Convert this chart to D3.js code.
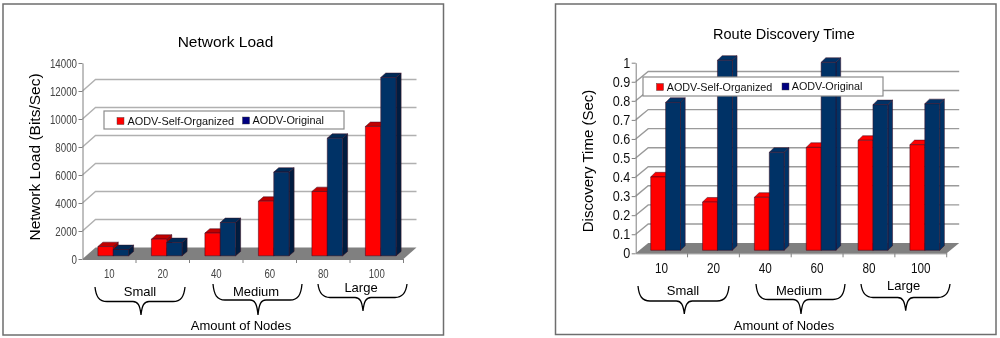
<!DOCTYPE html>
<html>
<head>
<meta charset="utf-8">
<script src="https://cdn.jsdelivr.net/npm/d3@7"></script>
<style>
  html, body { margin: 0; padding: 0; background: #fff; }
  svg { display: block; }
  text { font-family: "Liberation Sans", Arial, sans-serif; }
</style>
</head>
<body>
<div id="graficos"></div>
<script>
// DATOS
var series = ['AODV-Self-Organized', 'AODV-Original'];
var nodes = ['10', '20', '40', '60', '80', '100'];
var groups = ['Small', 'Medium', 'Large'];

var loadSelfOrganized = [660, 1190, 1620, 3900, 4590, 9240];
var loadOriginal = [450, 950, 2380, 5980, 8400, 12740];
var loadTicks = [0, 2000, 4000, 6000, 8000, 10000, 12000, 14000];

var timeSelfOrganized = [0.385, 0.253, 0.278, 0.54, 0.577, 0.554];
var timeOriginal = [0.776, 0.997, 0.514, 0.986, 0.764, 0.769];
var timeTicks = [0, 0.1, 0.2, 0.3, 0.4, 0.5, 0.6, 0.7, 0.8, 0.9, 1];

var svg = d3.select('#graficos').append('svg')
    .attr('width', 1000)
    .attr('height', 338);

// La imagen original esta un poco borrosa
svg.append('defs').append('filter').attr('id', 'suave')
    .attr('x', 0).attr('y', 0).attr('width', 1).attr('height', 1)
    .append('feGaussianBlur').attr('stdDeviation', 0.35);

var root = svg.append('g').attr('filter', 'url(#suave)');
root.append('rect').attr('width', 1000).attr('height', 338).attr('fill', '#fff');

var front = ['#ff0000', '#003366'];
var swatch = ['#ff0000', '#000080'];

// Llave horizontal con la punta hacia abajo
function brace(b) {
    var r = 8;
    return 'M' + b.x0 + ',' + b.top +
        'C' + (b.x0 + 1) + ',' + (b.mid - 5) + ' ' + (b.x0 + 4) + ',' + b.mid + ' ' + (b.x0 + r + 4) + ',' + b.mid +
        'L' + (b.tip - r) + ',' + b.mid +
        'C' + (b.tip - 3) + ',' + b.mid + ' ' + (b.tip - 1) + ',' + (b.mid + 4) + ' ' + b.tip + ',' + b.end +
        'C' + (b.tip + 1) + ',' + (b.mid + 4) + ' ' + (b.tip + 3) + ',' + b.mid + ' ' + (b.tip + r) + ',' + b.mid +
        'L' + (b.x1 - r - 4) + ',' + b.mid +
        'C' + (b.x1 - 4) + ',' + b.mid + ' ' + (b.x1 - 1) + ',' + (b.mid - 5) + ' ' + b.x1 + ',' + b.top;
}

// Las etiquetas del original estan comprimidas a lo ancho
function squeeze(sel, factor) {
    sel.each(function () {
        d3.select(this)
            .attr('textLength', this.getComputedTextLength() * factor)
            .attr('lengthAdjust', 'spacingAndGlyphs');
    });
}

function drawChart(c) {
    var g = root.append('g');

    // MARCO
    g.append('rect')
        .attr('x', c.frame[0]).attr('y', c.frame[1])
        .attr('width', c.frame[2] - c.frame[0]).attr('height', c.frame[3] - c.frame[1])
        .attr('fill', '#fff').attr('stroke', '#6e6e6e').attr('stroke-width', 1.5);

    // ---------ESCALAS------------
    var x = d3.scaleBand().domain(nodes).range([c.left, c.right]);
    var xSerie = d3.scaleBand().domain(series).range([0, x.bandwidth()]).paddingOuter(0.74).paddingInner(0);
    var y = d3.scaleLinear().domain([0, c.max]).range([c.bottom, c.top]);

    // Piso
    g.append('path')
        .attr('d', 'M' + c.left + ',' + y(0) + 'L' + (c.left + c.depthX) + ',' + (y(0) - c.depthY) +
            'L' + (c.right + c.depthX) + ',' + (y(0) - c.depthY) + 'L' + c.right + ',' + y(0) + 'Z')
        .attr('fill', '#808080');

    // Lineas de la pared
    var wall = c.ticks.filter(function (d) { return d > 0 && d < c.max; });
    g.selectAll('.wall').data(wall).enter().append('polyline')
        .attr('class', 'wall')
        .attr('fill', 'none')
        .attr('stroke', c.wallColor)
        .attr('stroke-width', 1.4)
        .attr('points', function (d) {
            return c.left + ',' + y(d) + ' ' + (c.left + c.depthX) + ',' + (y(d) - c.depthY) + ' ' +
                (c.right + c.depthX) + ',' + (y(d) - c.depthY);
        });

    // Barras
    nodes.forEach(function (n, i) {
        series.forEach(function (s, k) {
            var v = c.values[k][i];
            var x0 = x(n) + xSerie(s) + c.barOffX;
            var x1 = x0 + xSerie.bandwidth();
            var y0 = y(0) - c.barOffY;
            var y1 = y(v) - c.barOffY;
            var b = g.append('g').attr('stroke', '#3a0a20').attr('stroke-width', 0.5).attr('stroke-linejoin', 'round');
            b.append('path')
                .attr('d', 'M' + x1 + ',' + y0 + 'L' + (x1 + c.barX) + ',' + (y0 - c.barY) + 'L' + (x1 + c.barX) + ',' + (y1 - c.barY) + 'L' + x1 + ',' + y1 + 'Z')
                .attr('fill', c.side[k]);
            b.append('path')
                .attr('d', 'M' + x0 + ',' + y1 + 'L' + (x0 + c.barX) + ',' + (y1 - c.barY) + 'L' + (x1 + c.barX) + ',' + (y1 - c.barY) + 'L' + x1 + ',' + y1 + 'Z')
                .attr('fill', c.topFace[k]);
            b.append('rect')
                .attr('x', x0).attr('y', y1)
                .attr('width', x1 - x0).attr('height', y0 - y1)
                .attr('fill', front[k]);
        });
    });

    // EJE Y
    var axisY = g.append('g')
        .attr('transform', 'translate(' + c.left + ',0)')
        .call(d3.axisLeft(y).tickValues(c.ticks).tickFormat(function (d) { return d; }).tickSize(4).tickPadding(1.5).tickSizeOuter(0));
    axisY.selectAll('line').attr('stroke', '#808080');
    axisY.select('.domain').attr('stroke', '#808080');
    axisY.selectAll('text').attr('font-size', c.tickFont).attr('fill', c.tickColor)
        .style('font-family', '"Liberation Sans", Arial, sans-serif')
        .call(squeeze, c.tickSqueeze);

    // EJE X, etiquetas centradas y marcas en los limites de cada banda
    var axisX = g.append('g')
        .attr('transform', 'translate(0,' + y(0) + ')')
        .call(d3.axisBottom(x).tickSize(0).tickSizeOuter(0).tickPadding(c.xPad));
    axisX.select('.domain').attr('stroke', '#808080');
    axisX.selectAll('text').attr('font-size', c.xFont).attr('fill', c.tickColor)
        .style('font-family', '"Liberation Sans", Arial, sans-serif')
        .call(squeeze, c.xSqueeze);
    axisX.selectAll('.limite').data(nodes).enter().append('line')
        .attr('class', 'limite')
        .attr('x1', function (d) { return x(d) + x.bandwidth(); })
        .attr('x2', function (d) { return x(d) + x.bandwidth(); })
        .attr('y1', 0).attr('y2', 4)
        .attr('stroke', '#808080');

    // Titulos
    g.append('text').attr('x', c.titleX).attr('y', c.titleY).attr('text-anchor', 'middle')
        .attr('font-size', c.titleFont).attr('fill', '#000').text(c.title);
    g.append('text')
        .attr('transform', 'translate(' + c.yTitleX + ',' + c.yTitleY + ') rotate(-90)')
        .attr('text-anchor', 'middle')
        .attr('font-size', c.yTitleFont).attr('fill', '#000').text(c.yTitle);
    g.append('text').attr('x', c.nodesX).attr('y', 330).attr('text-anchor', 'middle')
        .attr('font-size', 13).attr('fill', '#000').text('Amount of Nodes');

    // Llaves
    groups.forEach(function (name, i) {
        var b = c.braces[i];
        g.append('path').attr('d', brace(b))
            .attr('fill', 'none').attr('stroke', '#000').attr('stroke-width', 1.3);
        g.append('text').attr('x', b.labelX).attr('y', b.labelY).attr('text-anchor', 'middle')
            .attr('font-size', 13).attr('fill', '#000').text(name);
    });

    // Leyenda, va encima de las barras
    var l = c.legend;
    g.append('rect')
        .attr('x', l.x0).attr('y', l.y0).attr('width', l.x1 - l.x0).attr('height', l.y1 - l.y0)
        .attr('fill', '#fff').attr('stroke', '#8c8c8c').attr('stroke-width', 1.2);
    series.forEach(function (s, k) {
        g.append('rect')
            .attr('x', l.swatch[k]).attr('y', l.swatchY[k]).attr('width', 7).attr('height', 7)
            .attr('fill', swatch[k]).attr('stroke', '#333').attr('stroke-width', 0.4);
        g.append('text')
            .attr('x', l.text[k]).attr('y', l.base[k])
            .attr('font-size', l.font).attr('fill', '#111').text(s);
    });
}

drawChart({
    title: 'Network Load', titleX: 225.5, titleY: 46.5, titleFont: 15.5,
    yTitle: 'Network Load (Bits/Sec)', yTitleX: 40, yTitleY: 157, yTitleFont: 15.5,
    frame: [3, 4, 443.5, 335],
    left: 82.5, right: 403.5, top: 63, bottom: 259, max: 14000,
    values: [loadSelfOrganized, loadOriginal], ticks: loadTicks,
    depthX: 13, depthY: 11.5, barOffX: 4, barOffY: 3.2, barX: 5, barY: 4.4,
    topFace: ['#c00000', '#002b57'], side: ['#a00000', '#001f3f'], wallColor: '#b0b0b0',
    tickFont: 12.5, tickSqueeze: 0.78, xFont: 12, xSqueeze: 0.8, xPad: 10, tickColor: '#444',
    nodesX: 241,
    braces: [
        { x0: 95, x1: 185, top: 287, mid: 301.5, tip: 141, end: 315, labelX: 140, labelY: 296 },
        { x0: 213, x1: 302, top: 284, mid: 300, tip: 258, end: 315, labelX: 256, labelY: 296 },
        { x0: 318, x1: 407, top: 284, mid: 297.5, tip: 363, end: 311, labelX: 361, labelY: 291.5 }
    ],
    legend: { x0: 104, x1: 344, y0: 111, y1: 129, font: 10.9,
        swatch: [117, 242.5], swatchY: [117.5, 117], text: [127.5, 252.5], base: [125, 124] }
});

drawChart({
    title: 'Route Discovery Time', titleX: 784, titleY: 38.5, titleFont: 14.5,
    yTitle: 'Discovery Time (Sec)', yTitleX: 593, yTitleY: 161, yTitleFont: 15,
    frame: [555.5, 4, 996, 334.5],
    left: 635.7, right: 946.7, top: 62.7, bottom: 253.3, max: 1,
    values: [timeSelfOrganized, timeOriginal], ticks: timeTicks,
    depthX: 12.5, depthY: 10.3, barOffX: 4, barOffY: 3, barX: 4.7, barY: 4.6,
    topFace: ['#ff0000', '#003366'], side: ['#ff0000', '#003366'], wallColor: '#9a9a9a',
    tickFont: 14, tickSqueeze: 0.9, xFont: 14, xSqueeze: 0.84, xPad: 10, tickColor: '#111',
    nodesX: 784,
    braces: [
        { x0: 638, x1: 729, top: 286, mid: 301, tip: 684.3, end: 314, labelX: 683, labelY: 295 },
        { x0: 756, x1: 845, top: 284, mid: 299.5, tip: 801, end: 314, labelX: 799, labelY: 295 },
        { x0: 861, x1: 950, top: 284, mid: 297.5, tip: 905.7, end: 310.7, labelX: 903.7, labelY: 290 }
    ],
    legend: { x0: 643, x1: 883, y0: 77, y1: 96, font: 10.8,
        swatch: [656.5, 782], swatchY: [83.5, 83], text: [666.7, 791.7], base: [91, 90] }
});
</script>
</body>
</html>
